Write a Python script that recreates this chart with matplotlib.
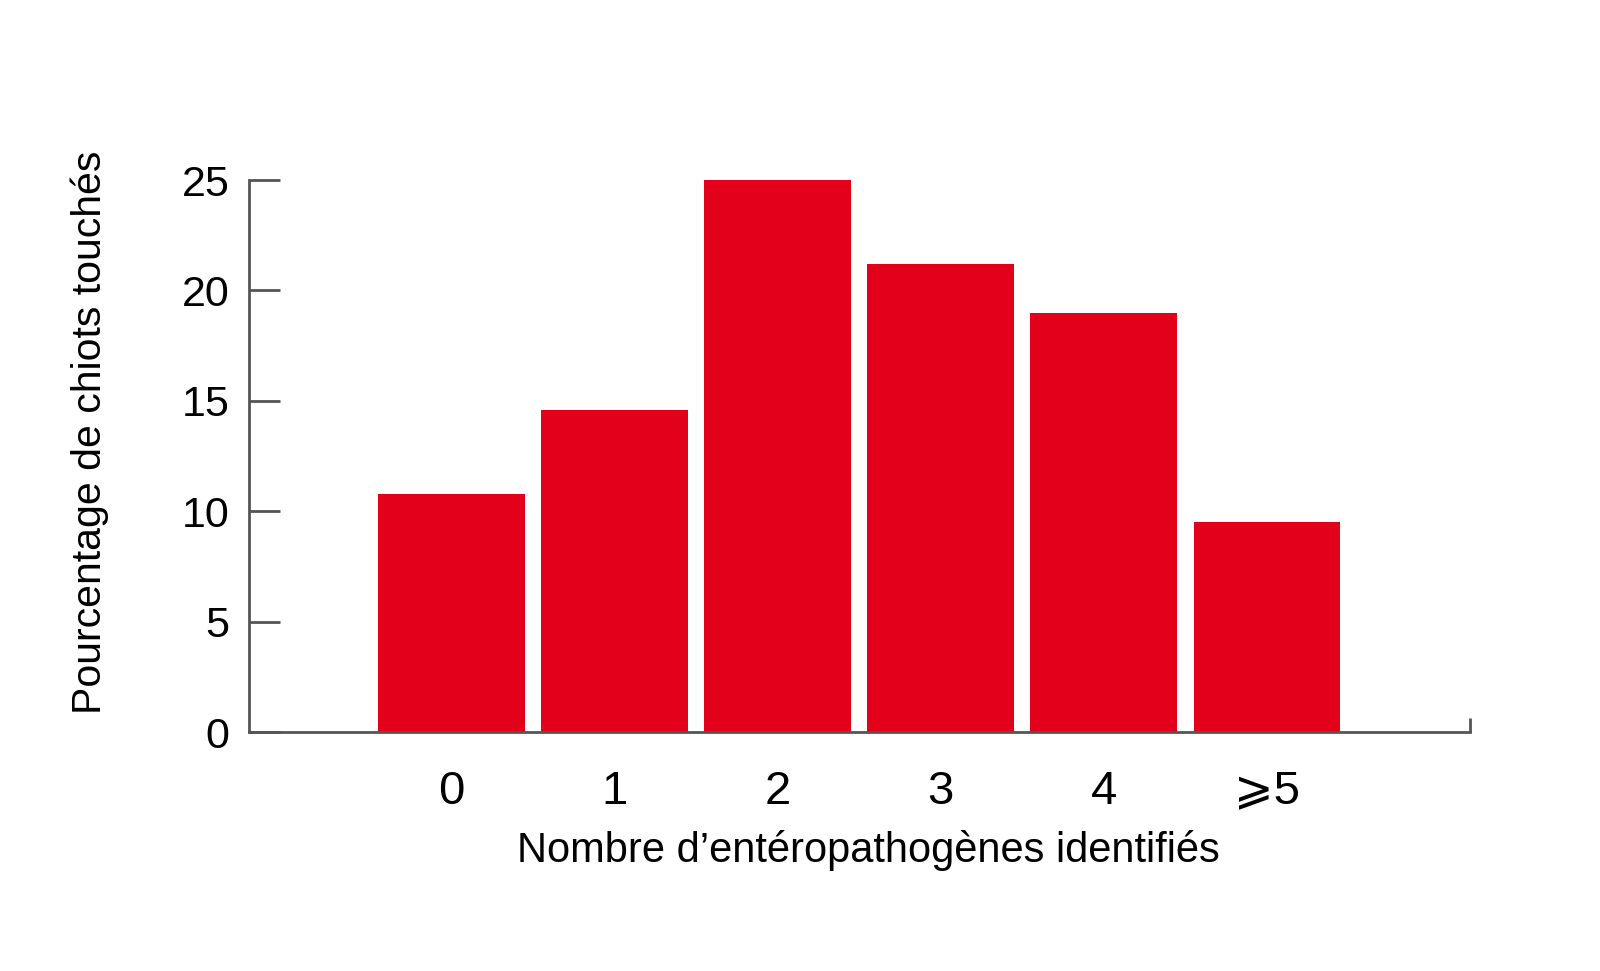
import matplotlib
matplotlib.use("Agg")
from matplotlib import pyplot as plt
import numpy as np

# donnees
categories = ["0", "1", "2", "3", "4", "\u2a7e5"]
pourcentages = [10.8, 14.6, 25.0, 21.2, 19.0, 9.5]
yticks = [0, 5, 10, 15, 20, 25]

plt.rcParams['font.family'] = ['Liberation Sans', 'DejaVu Sans']

ROUGE = '#E2001A'
GRIS = '#555555'

fig = plt.figure(figsize=(16, 9.71), dpi=100)
ax = fig.add_axes([0.1556, 0.2461, 0.9188 - 0.1556, 0.8146 - 0.2461])

x = np.arange(len(categories))
ax.bar(x, pourcentages, width=0.9, color=ROUGE, linewidth=0)

xmin, xmax = -1.24, 6.245
ax.set_xlim(xmin, xmax)
ax.set_ylim(0, 25)

ax.set_xticks(x)
ax.set_xticklabels(categories, fontsize=34)
ax.set_yticks(yticks)
ax.set_yticklabels([str(t) for t in yticks], fontsize=31)

ax.tick_params(axis='y', direction='in', length=22, width=2, color=GRIS, pad=14)
ax.tick_params(axis='x', which='major', length=0, pad=27)
ax.set_xticks([xmax], minor=True)
ax.tick_params(axis='x', which='minor', direction='in', length=10, width=2, color=GRIS)

for s in ['top', 'right']:
    ax.spines[s].set_visible(False)
for s in ['left', 'bottom']:
    ax.spines[s].set_color(GRIS)
    ax.spines[s].set_linewidth(2)

ax.set_xlabel("Nombre d\u2019ent\u00e9ropathog\u00e8nes identifi\u00e9s", fontsize=30, labelpad=12)
ax.set_ylabel("Pourcentage de chiots touch\u00e9s", fontsize=29.5, labelpad=52)
# titres legerement decales comme sur l'original
ax.xaxis.label.set_x(0.507)
ax.yaxis.label.set_y(0.543)

fig.savefig("out.png", dpi=100, facecolor='white')
